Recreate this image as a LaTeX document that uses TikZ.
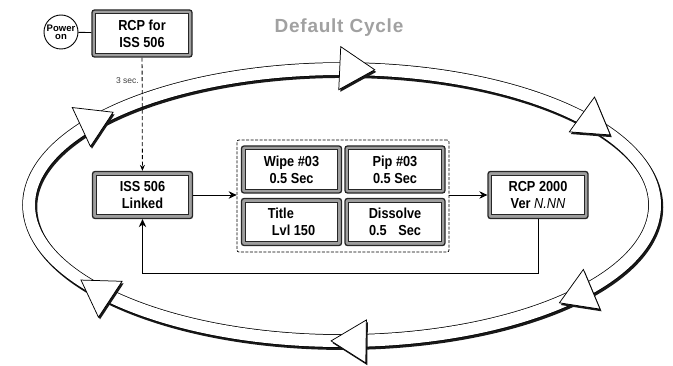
\documentclass[tikz,border=0pt]{standalone}
\usepackage{fontspec}
\setmainfont{Liberation Sans}[FakeStretch=0.88]
\newfontfamily\ttlfamily{Liberation Sans}[LetterSpace=4]
\newfontfamily\plainfamily{Liberation Sans}
\usetikzlibrary{arrows.meta}
\newcommand\bxfont{\fontsize{14.5}{17}\selectfont\bfseries}
\newcommand\pwfont{\plainfamily\fontsize{9.5}{8}\selectfont\bfseries}
\newcommand\secfont{\plainfamily\fontsize{8.5}{10}\selectfont}
\tikzset{
  dbox/.style={rectangle, rounded corners=2.5pt, draw=black!85, line width=1.3pt,
    fill=black!38, minimum width=100pt, minimum height=47pt, inner sep=0pt,
    align=center, font=\bxfont,
    path picture={\draw[line width=0.8pt, fill=white, sharp corners]
      ([shift={(3.8pt,3.8pt)}]path picture bounding box.south west) rectangle
      ([shift={(-3.8pt,-3.8pt)}]path picture bounding box.north east);}},
  conn/.style={line width=0.9pt, -{Stealth[length=8pt,width=7.5pt]}},
  dconn/.style={line width=0.8pt, dash pattern=on 4pt off 2.5pt, -{Stealth[length=6pt,width=5pt]}},
  ringline/.style={line width=0.75pt, double=white, double distance=12pt},
  headwhite/.style={line width=0.75pt, fill=white, line join=miter},
}
\begin{document}
\begin{tikzpicture}[x=1pt,y=1pt]
\useasboundingbox (0,0) rectangle (673,365);
% ring
\begin{scope}[shift={(1.5,-2.2)}]
  \draw[line width=13.5pt, black!90] (342,160) ellipse [x radius=313, y radius=136];
\end{scope}
\draw[ringline] (342,160) ellipse [x radius=313, y radius=136];
\foreach \t in {84,31,-46,-92,-146.5,137}{
  \pgfmathsetmacro\ang{atan2(-136*cos(\t),313*sin(\t))}
  \pgfmathsetmacro\px{342+313*cos(\t)}
  \pgfmathsetmacro\py{160+136*sin(\t)}
  \fill[black!90, shift={(\px+1.5,\py-2.2)}, rotate=\ang] (0,0) -- (-35,21.5) -- (-35,-21.5) -- cycle;
  \draw[headwhite, shift={(\px,\py)}, rotate=\ang] (0,0) -- (-35,21.5) -- (-35,-21.5) -- cycle;
}
% title
\node[font={\ttlfamily\fontsize{19}{22}\selectfont\bfseries}, text=black!37] (ttl) at (339,337) {Default Cycle};
% nodes
\node[circle, draw, line width=0.9pt, minimum size=34pt, inner sep=0pt, align=center, font=\pwfont] (pwr) at (61,333) {Power\\on};
\node[dbox] (rcpa) at (142,331.5) {RCP for\\ISS 506};
\node[dbox] (iss) at (142.5,170) {ISS 506\\Linked};
\node[draw, rounded corners=2pt, minimum width=212pt, minimum height=112pt, line width=0.7pt, dash pattern=on 3pt off 1.5pt] (grp) at (343,169) {};
\node[dbox] (wipe) at (291.5,195.5) {Wipe \#03\\0.5 Sec};
\node[dbox] (pip) at (395,195.5) {Pip \#03\\0.5 Sec};
\node[dbox, align=left] (title) at (291.5,143) {Title\\\hspace*{4pt}Lvl 150};
\node[dbox] (diss) at (395,143) {Dissolve\\\makebox[52pt]{0.5\hfill Sec}};
\node[dbox] (rcpb) at (538,170) {RCP 2000\\Ver {\mdseries\itshape N.NN}};
\coordinate (ret) at (0,92);
% connectors
\draw[line width=0.9pt] (pwr) -- (rcpa);
\draw[dconn] (rcpa) -- (iss);
\node[anchor=east, font=\secfont, text=black!75, inner sep=0pt] (sec) at (139,284) {3 sec.};
\draw[conn] (iss.east) -- (iss.east -| grp.west);
\draw[conn] (grp.east |- rcpb.west) -- (rcpb.west);
\draw[conn] (rcpb.south) -- (rcpb.south |- ret) -| (iss.south);
\end{tikzpicture}
\end{document}
